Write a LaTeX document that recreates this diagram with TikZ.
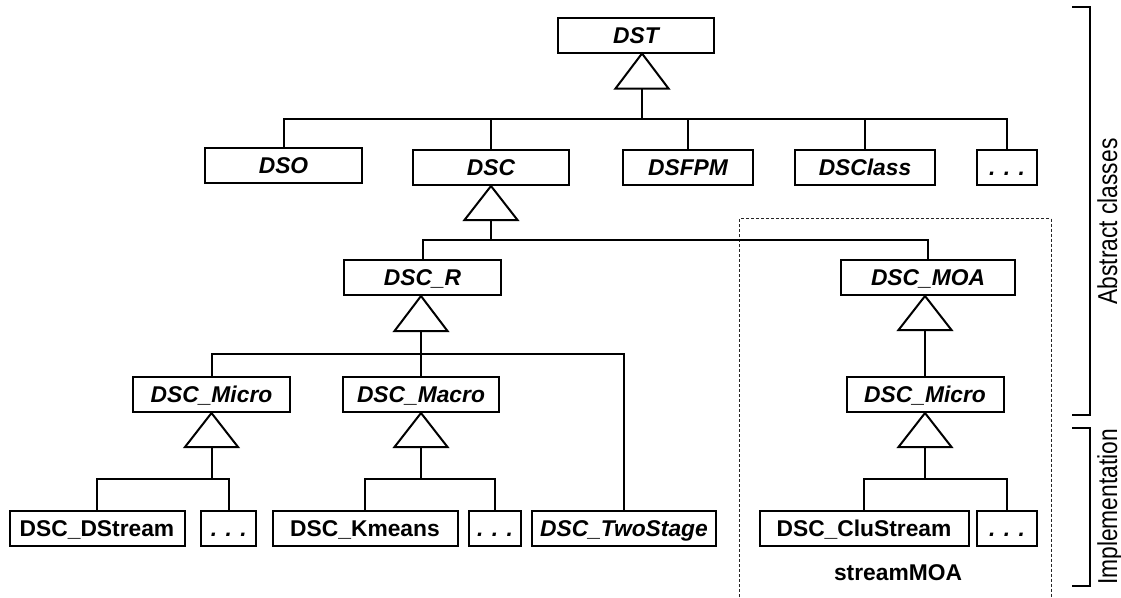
\documentclass[tikz,border=0pt]{standalone}
\usepackage{fontspec}
\setmainfont{Liberation Sans}
\newfontfamily\labfont{Liberation Sans}
\usetikzlibrary{calc}
\newcommand\labsize{\fontsize{22.8pt}{26pt}\selectfont}
\begin{document}
\begin{tikzpicture}[x=1pt,y=-1pt,
  cls/.style={draw, line width=2pt, rectangle, inner sep=0pt, minimum height=35pt,
    text height=16.3pt, text depth=0pt, font=\labfont\labsize\bfseries, text=black},
  acls/.style={cls, font=\labfont\labsize\bfseries\itshape},
  conn/.style={line width=2pt, line join=miter},
  frame/.style={line width=0.9pt, dash pattern=on 3pt off 2pt, black!85},
  brk/.style={line width=2pt},
  side/.style={rotate=90, anchor=base, inner sep=0pt, font=\fontsize{22.8pt}{26pt}\selectfont}]
\useasboundingbox[fill=white] (0,0) rectangle (1121,597);

% dotted streamMOA frame
\draw[frame] (739.6,597) -- (739.6,218.5) -- (1051,218.5) -- (1051,597);

% classes
\node[acls, minimum width=156pt] (DST) at (636,35) {DST};
\node[acls, minimum width=157pt] (DSO) at (283.5,165.5) {DSO};
\node[acls, minimum width=156pt] (DSC) at (491,167.5) {DSC};
\node[acls, minimum width=130pt] (DSFPM) at (688,167.5) {DSFPM};
\node[acls, minimum width=140pt] (DSClass) at (865,167.5) {DSClass};
\node[acls, minimum width=60pt] (dA) at (1007,167.5) {. . .};
\node[acls, minimum width=157pt] (DSCR) at (422.5,277.5) {DSC\_R};
\node[acls, minimum width=174pt] (MOA) at (928,277.5) {DSC\_MOA};
\node[acls, minimum width=157pt] (MicL) at (211.5,394.5) {DSC\_Micro};
\node[acls, minimum width=156pt] (Mac) at (421,394.5) {DSC\_Macro};
\node[acls, minimum width=157pt] (MicR) at (925,394.5) {DSC\_Micro};
\node[cls, minimum width=175pt] (DStream) at (97,528.5) {DSC\_DStream};
\node[acls, minimum width=55pt] (dB) at (228.7,528.5) {. . .};
\node[cls, minimum width=185pt] (Kmeans) at (365,528.5) {DSC\_Kmeans};
\node[acls, minimum width=52pt] (dC) at (495,528.5) {. . .};
\node[acls, minimum width=184pt] (Two) at (624,528.5) {DSC\_TwoStage};
\node[cls, minimum width=209pt] (Clu) at (864,528.5) {DSC\_CluStream};
\node[acls, minimum width=60pt] (dD) at (1007,528.5) {. . .};

\node[inner sep=0pt, font=\labfont\labsize\bfseries] (smoa) at (898,573) {streamMOA};

% DST generalization
\coordinate (tA) at ($(DST.south)+(6,0)$);
\draw[conn] (tA) -- ++(26.5,35) -- ++(-53,0) -- cycle;
\draw[conn] ($(tA)+(0,35)$) -- ++(0,30) coordinate (bA);
\draw[conn] (DSO.north) -- (DSO.north |- bA) -| (dA.north);
\foreach \n in {DSC,DSFPM,DSClass} \draw[conn] (\n.north) -- (\n.north |- bA);

% DSC generalization
\draw[conn] (DSC.south) -- ++(26.5,34) -- ++(-53,0) -- cycle;
\draw[conn] ($(DSC.south)+(0,34)$) -- ++(0,20) coordinate (bB);
\draw[conn] (DSCR.north) -- (DSCR.north |- bB) -| (MOA.north);

% DSC_R generalization
\coordinate (tC) at ($(DSCR.south)+(-1.5,0)$);
\draw[conn] (tC) -- ++(26.5,35) -- ++(-53,0) -- cycle;
\draw[conn] ($(tC)+(0,35)$) -- ++(0,23) coordinate (bC);
\draw[conn] (MicL.north) -- (MicL.north |- bC) -| (Two.north);
\draw[conn] (Mac.north) -- (Mac.north |- bC);

% DSC_MOA generalization
\coordinate (tM) at (MOA.south -| MicR.north);
\draw[conn] (tM) -- ++(26.5,34) -- ++(-53,0) -- cycle;
\draw[conn] ($(tM)+(0,34)$) -- (MicR.north);

% DSC_Micro (left)
\draw[conn] (MicL.south) -- ++(26.5,34) -- ++(-53,0) -- cycle;
\draw[conn] ($(MicL.south)+(0,34)$) -- ++(0,32) coordinate (bD);
\draw[conn] (DStream.north) -- (DStream.north |- bD) -| (dB.north);

% DSC_Macro
\draw[conn] (Mac.south) -- ++(26.5,34) -- ++(-53,0) -- cycle;
\draw[conn] ($(Mac.south)+(0,34)$) -- ++(0,32) coordinate (bE);
\draw[conn] (Kmeans.north) -- (Kmeans.north |- bE) -| (dC.north);

% DSC_Micro (right)
\draw[conn] (MicR.south) -- ++(26.5,34) -- ++(-53,0) -- cycle;
\draw[conn] ($(MicR.south)+(0,34)$) -- ++(0,32) coordinate (bF);
\draw[conn] (Clu.north) -- (Clu.north |- bF) -| (dD.north);

% side brackets
\draw[brk] (1072,7) -- (1090,7) -- (1090,415) -- (1072,415);
\draw[brk] (1072,428) -- (1090,428) -- (1090,586) -- (1072,586);
\node[side] (labA) at (1117,221.5) {\scalebox{1}[1.2]{Abstract classes}};
\node[side] (labI) at (1117,507) {\scalebox{1}[1.2]{Implementation}};
\end{tikzpicture}
\end{document}
